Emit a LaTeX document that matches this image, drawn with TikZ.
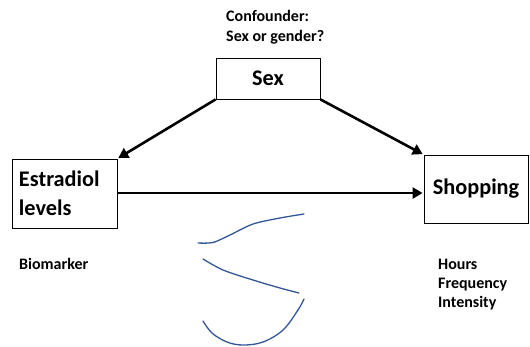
\documentclass[tikz,border=0pt]{standalone}
\usepackage{fontspec}
\setmainfont{Carlito}
\usetikzlibrary{arrows.meta}
\definecolor{ink}{RGB}{50,86,150}
\tikzset{
  box/.style={draw, line width=0.8pt, rectangle, inner sep=0pt},
  big/.style={font=\bfseries\fontsize{22.3}{29}\selectfont},
  small/.style={font=\bfseries\fontsize{16}{19}\selectfont, anchor=base west, inner sep=0pt, align=left},
  arr/.style={line width=2.6pt, -{Triangle[length=10pt,width=11pt]}, shorten >=1pt},
  scribble/.style={ink, line width=1.3pt, line cap=round, line join=round}
}
\begin{document}
\begin{tikzpicture}[x=1pt,y=-1pt]
\useasboundingbox (0,0) rectangle (530,346);
\node[box, big, minimum width=104pt, minimum height=41pt] (sex) at (268,78.5) {Sex};
\node[box, big, text width=91pt, inner xsep=7pt, minimum height=69pt, align=left] (est) at (64.5,193.5) {Estradiol\\levels};
\node[box, big, minimum width=104pt, minimum height=68pt] (shop) at (476,189) {Shopping};
\node[small] (conf) at (226,21.5) {Confounder:};
\node[small] (conf2) at (226,41) {Sex or gender?};
\node[small] (bio) at (19,269) {Biomarker};
\node[small] (hours) at (438,269) {Hours};
\node[small] (freq) at (438,288) {Frequency};
\node[small] (inten) at (438,307) {Intensity};
\draw[arr] (sex.south west) -- (est.north east);
\draw[arr] (sex.south east) -- (shop.north west);
\draw[arr] (est.east |- 0,193) -- (shop.west |- 0,193);
\draw[scribble] plot[smooth, tension=0.5] coordinates {(198,243) (213,242.5) (230,235) (253,224) (280,218) (304,214)};
\draw[scribble] plot[smooth, tension=0.5] coordinates {(203,259) (223,270) (253,280) (280,288) (299,293)};
\draw[scribble] plot[smooth, tension=0.6] coordinates {(203,321) (212,333) (227,342) (243,345) (263,342) (283,330) (298,310) (304,299)};
\end{tikzpicture}
\end{document}
